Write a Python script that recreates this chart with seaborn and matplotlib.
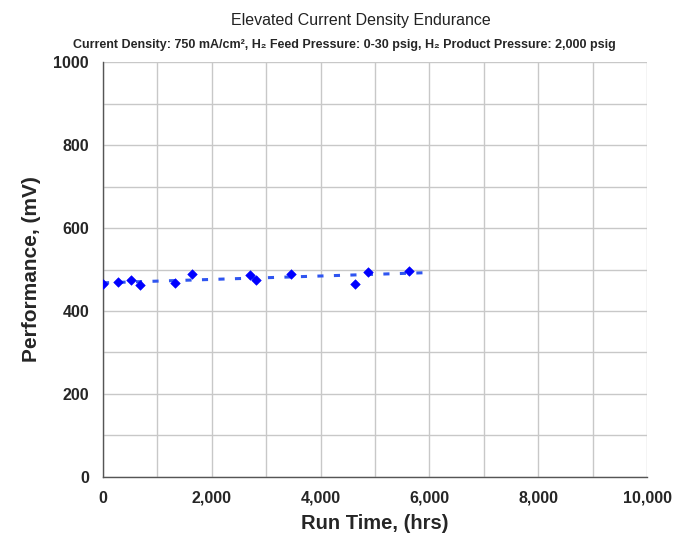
import numpy as np
import pandas as pd
import matplotlib
matplotlib.use('Agg')
import matplotlib.pyplot as plt
import seaborn as sns
from matplotlib.ticker import MultipleLocator, FuncFormatter

run_time = [5, 270, 509, 680, 1324, 1642, 2702, 2812, 3456, 4632, 4865, 5625]
performance = [464, 470, 474, 462, 467, 490, 486, 475, 489, 465, 493, 497]
trend_span = [0, 6000]

sns.set_style('white')
plt.rcParams['font.family'] = ['Liberation Sans', 'DejaVu Sans']

df = pd.DataFrame({'Run Time': run_time, 'Performance': performance})

# linear trendline like the spreadsheet one
slope, icept = np.polyfit(df['Run Time'], df['Performance'], 1)
trend = pd.DataFrame({'x': trend_span})
trend['y'] = icept + slope * trend['x']

fig = plt.figure(figsize=(6.75, 5.46), dpi=100)
ax = fig.add_axes([0.1526, 0.1264, 0.806, 0.76])

sns.lineplot(data=trend, x='x', y='y', ax=ax, color='#2f55f0', lw=2.2,
             linestyle=(0, (2.0, 3.4)), zorder=2)
sns.scatterplot(data=df, x='Run Time', y='Performance', ax=ax, marker='D',
                color='#0000ff', edgecolor='#0000ff', s=24, zorder=3)

ax.set_xlim(0, 10000)
ax.set_ylim(0, 1000)
ax.xaxis.set_major_locator(MultipleLocator(2000))
ax.xaxis.set_minor_locator(MultipleLocator(1000))
ax.yaxis.set_major_locator(MultipleLocator(200))
ax.yaxis.set_minor_locator(MultipleLocator(100))
ax.xaxis.set_major_formatter(FuncFormatter(lambda v, p: f'{int(v):,}'))
ax.grid(True, which='both', color='#c8c8c8', lw=1)
ax.set_axisbelow(True)
for s in ['top', 'right']:
    ax.spines[s].set_visible(False)
for s in ['left', 'bottom']:
    ax.spines[s].set_color('#555555')
    ax.spines[s].set_linewidth(1)
ax.tick_params(which='major', direction='out', length=4, width=1, color='#555555',
               labelsize=11.5, pad=6)
ax.tick_params(which='minor', length=0)
for lab in ax.get_xticklabels() + ax.get_yticklabels():
    lab.set_fontweight('bold')

ax.set_xlabel('Run Time, (hrs)', fontsize=14.5, fontweight='bold', labelpad=6)
ax.set_ylabel('Performance, (mV)', fontsize=15, fontweight='bold', labelpad=9)

fig.text(0.535, 0.962, 'Elevated Current Density Endurance', ha='center', va='center',
         fontsize=11.5, color='#222222')
fig.text(0.51, 0.918, 'Current Density: 750 mA/cm², H₂ Feed Pressure: 0-30 psig, '
         'H₂ Product Pressure: 2,000 psig', ha='center', va='center',
         fontsize=9, fontweight='bold')

fig.savefig('out.png', dpi=100)
